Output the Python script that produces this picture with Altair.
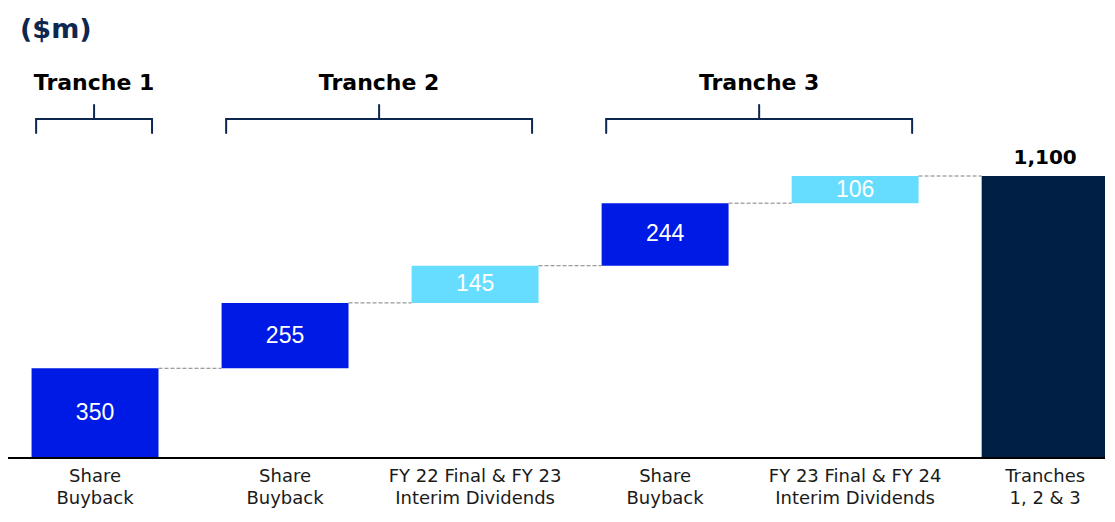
import altair as alt
import pandas as pd

# ---- data ----
categories = ["Share\nBuyback", "Share\nBuyback", "FY 22 Final & FY 23\nInterim Dividends",
              "Share\nBuyback", "FY 23 Final & FY 24\nInterim Dividends", "Tranches\n1, 2 & 3"]
values = [350, 255, 145, 244, 106, 1100]
kinds = ["buyback", "buyback", "dividend", "buyback", "dividend", "total"]
value_labels = ["350", "255", "145", "244", "106", "1,100"]

tranche_names = ["Tranche 1", "Tranche 2", "Tranche 3"]
tranche_first = [0, 1, 3]
tranche_last = [0, 2, 4]

# ---- derived tables ----
rows = []
running = 0
for i, (c, v, k, lab) in enumerate(zip(categories, values, kinds, value_labels)):
    if k == "total":
        start, end = 0, v
    else:
        start, end = running, running + v
        running = end
    rows.append(dict(idx=i, cat=c, start=start, end=end, mid=(start + end) / 2,
                     kind=k, label=lab, left=i - 0.334, right=i + 0.334))
df = pd.DataFrame(rows)

conn = pd.DataFrame([dict(x=df.right[i], x2=df.left[i + 1], y=df.end[i]) for i in range(len(df) - 1)])

tr = pd.DataFrame(dict(name=tranche_names,
                       s=[f - 0.31 for f in tranche_first],
                       e=[l + 0.3 for l in tranche_last]))
tr["m"] = (tr.s + tr.e) / 2

W, H = 1097, 506
xs = alt.Scale(domain=[-0.458, 5.315], nice=False, zero=False)
ys = alt.Scale(domain=[-218.4, 1755.3], nice=False, zero=False)

base = alt.Chart(df)

bars = base.mark_bar().encode(
    x=alt.X("left:Q", scale=xs, axis=None),
    x2="right:Q",
    y=alt.Y("start:Q", scale=ys, axis=None),
    y2="end:Q",
    color=alt.Color("kind:N", scale=alt.Scale(domain=["buyback", "dividend", "total"],
                                              range=["#001AE6", "#66DDFF", "#001F45"]), legend=None),
)

inner = base.transform_filter("datum.kind != 'total'").mark_text(
    color="white", fontSize=23, font="Liberation Sans", baseline="middle"
).encode(x=alt.X("idx:Q", scale=xs), y=alt.Y("mid:Q", scale=ys), text="label:N")

total_lab = base.transform_filter("datum.kind == 'total'").mark_text(
    color="black", fontSize=20, fontWeight="bold", font="DejaVu Sans", baseline="bottom", dy=-8
).encode(x=alt.X("idx:Q", scale=xs), y=alt.Y("end:Q", scale=ys), text="label:N")

connectors = alt.Chart(conn).mark_rule(color="#7f7f7f", strokeDash=[4, 2], strokeWidth=1).encode(
    x=alt.X("x:Q", scale=xs), x2="x2:Q", y=alt.Y("y:Q", scale=ys))

baseline = alt.Chart(pd.DataFrame({"y": [0]})).mark_rule(color="black", strokeWidth=2).encode(
    y=alt.Y("y:Q", scale=ys), x=alt.value(0), x2=alt.value(W))

cat_text = base.mark_text(
    fontSize=18, font="DejaVu Sans", color="#1a1a1a", baseline="top", lineBreak="\n", lineHeight=22
).encode(x=alt.X("idx:Q", scale=xs), y=alt.value(460), text="cat:N")

brace_col = "#0D2750"
tb = alt.Chart(tr)
brace_h = tb.mark_rule(color=brace_col, strokeWidth=2, strokeCap="round").encode(
    x=alt.X("s:Q", scale=xs), x2="e:Q", y=alt.value(111))
brace_l = tb.mark_rule(color=brace_col, strokeWidth=2, strokeCap="round").encode(
    x=alt.X("s:Q", scale=xs), y=alt.value(111), y2=alt.value(125))
brace_r = tb.mark_rule(color=brace_col, strokeWidth=2, strokeCap="round").encode(
    x=alt.X("e:Q", scale=xs), y=alt.value(111), y2=alt.value(125))
brace_c = tb.mark_rule(color=brace_col, strokeWidth=2, strokeCap="round").encode(
    x=alt.X("m:Q", scale=xs), y=alt.value(97), y2=alt.value(111))
tr_text = tb.mark_text(fontSize=22, fontWeight="bold", font="DejaVu Sans", color="black", baseline="middle").encode(
    x=alt.X("m:Q", scale=xs), y=alt.value(75), text="name:N")

unit = alt.Chart(pd.DataFrame({"t": ["($m)"]})).mark_text(
    fontSize=27, fontWeight="bold", font="DejaVu Sans", color="#0D2750", align="left", baseline="middle"
).encode(x=alt.value(12), y=alt.value(22), text="t:N")

chart = alt.layer(bars, connectors, baseline, inner, total_lab, cat_text,
                  brace_h, brace_l, brace_r, brace_c, tr_text, unit).properties(
    width=W, height=H, padding=0,
    autosize=alt.AutoSizeParams(type="none"),
).configure_view(stroke=None)

chart.save("out.html", embed_options={"renderer": "svg", "actions": False})
